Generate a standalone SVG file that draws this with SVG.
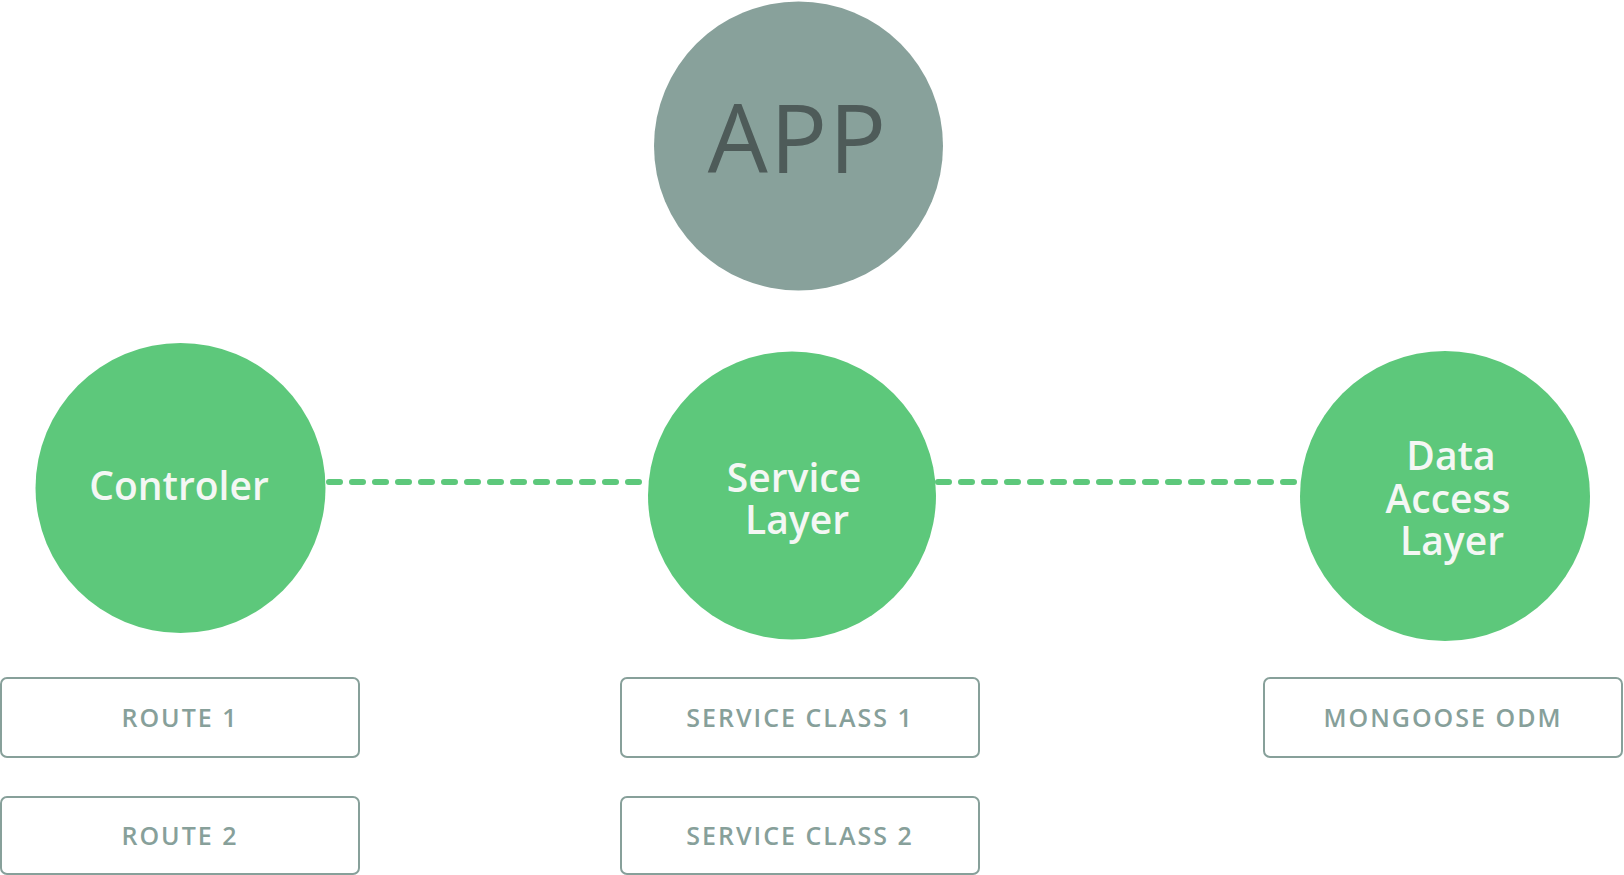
<svg xmlns="http://www.w3.org/2000/svg" width="1624" height="875" viewBox="0 0 1624 875">
<style>
  .green{fill:#5dc87b}
  .lbl{font-family:"Open Sans","Liberation Sans",sans-serif;font-weight:600;font-size:39px;fill:#f4f7f4;text-anchor:middle}
  .box{fill:#ffffff;stroke:#87a09a;stroke-width:2}
  .btxt{font-family:"Open Sans","Liberation Sans",sans-serif;font-weight:600;font-size:25px;fill:#87a09a;text-anchor:middle;letter-spacing:2px}
  .conn{stroke:#5dc87b;stroke-width:6;stroke-linecap:round;stroke-dasharray:11 12;fill:none}
</style>
<rect width="1624" height="875" fill="#ffffff"/>
<g id="connectors">
  <line class="conn" x1="329" y1="482" x2="646" y2="482"/>
  <line class="conn" x1="938" y1="482" x2="1298" y2="482"/>
</g>
<g id="app">
  <circle cx="798.5" cy="146" r="144.5" fill="#88a19b"/>
  <text x="798" y="173" font-family="Open Sans, Liberation Sans, sans-serif" font-size="95" fill="#4e5b59" text-anchor="middle" letter-spacing="2">APP</text>
</g>
<g id="controler">
  <circle class="green" cx="180.5" cy="488" r="145"/>
  <text class="lbl" x="179" y="500">Controler</text>
</g>
<g id="service-layer">
  <circle class="green" cx="792" cy="495.5" r="144"/>
  <text class="lbl" x="794" y="492">Service</text>
  <text class="lbl" x="797" y="534">Layer</text>
</g>
<g id="data-access-layer">
  <circle class="green" cx="1445" cy="496" r="145"/>
  <text class="lbl" x="1451" y="470">Data</text>
  <text class="lbl" x="1448" y="513">Access</text>
  <text class="lbl" x="1452" y="555">Layer</text>
</g>
<g id="route1">
  <rect class="box" x="1" y="678" width="358" height="79" rx="6"/>
  <text class="btxt" x="180" y="727">ROUTE 1</text>
</g>
<g id="route2">
  <rect class="box" x="1" y="797" width="358" height="77" rx="6"/>
  <text class="btxt" x="180" y="845">ROUTE 2</text>
</g>
<g id="service-class1">
  <rect class="box" x="621" y="678" width="358" height="79" rx="6"/>
  <text class="btxt" x="800" y="727">SERVICE CLASS 1</text>
</g>
<g id="service-class2">
  <rect class="box" x="621" y="797" width="358" height="77" rx="6"/>
  <text class="btxt" x="800" y="845">SERVICE CLASS 2</text>
</g>
<g id="mongoose">
  <rect class="box" x="1264" y="678" width="358" height="79" rx="6"/>
  <text class="btxt" x="1443" y="727">MONGOOSE ODM</text>
</g>
</svg>
